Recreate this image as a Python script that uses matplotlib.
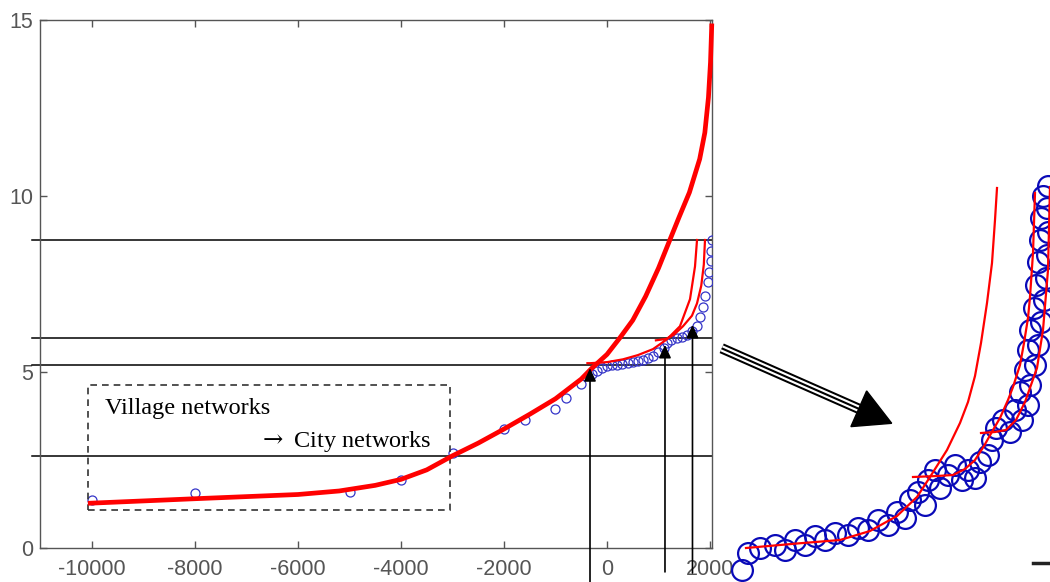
import numpy as np
import matplotlib
matplotlib.use("Agg")
import matplotlib.pyplot as plt
from matplotlib.patches import Rectangle, Polygon

plt.rcParams['axes.unicode_minus'] = False
plt.rcParams['mathtext.fontset'] = 'dejavuserif'

# ---------------- main chart data ----------------
x_ticks = [-10000, -8000, -6000, -4000, -2000, 0, 2000]
y_ticks = [0, 5, 10, 15]

fit_x = [-10080, -8000, -7000, -6000, -5200, -4500, -4000, -3500, -3000, -2500, -2000,
         -1500, -1000, -500, -300, 0, 250, 500, 750, 1000, 1220, 1400, 1600,
         1800, 1900, 1970, 2010, 2035]
fit_y = [1.27, 1.4, 1.46, 1.52, 1.62, 1.78, 1.95, 2.22, 2.62, 2.98, 3.38,
         3.8, 4.24, 4.8, 5.1, 5.5, 5.97, 6.47, 7.15, 7.95, 8.75, 9.4, 10.1,
         11.05, 11.8, 12.8, 13.8, 14.9]

fit2_x = [-380, -330, 0, 310, 600, 893, 1165, 1417, 1612, 1709, 1748]
fit2_y = [5.25, 5.25, 5.28, 5.36, 5.48, 5.65, 5.93, 6.3, 7.07, 8.0, 8.75]

fit3_x = [950, 1150, 1300, 1476, 1650, 1748, 1830, 1880, 1903]
fit3_y = [5.9, 5.94, 6.06, 6.3, 6.6, 6.95, 7.45, 8.05, 8.75]

obs_x = [-10000, -8000, -5000, -4000, -3000, -2000, -1600, -1000, -800, -500,
         -300, -200, -100, 0, 100, 200, 300, 400, 500, 600, 700, 800, 900,
         1000, 1100, 1165, 1250, 1350, 1450, 1553, 1650, 1748, 1810, 1864,
         1910, 1961, 1990, 2010, 2025, 2035]
obs_y = [1.36, 1.55, 1.6, 1.93, 2.69, 3.37, 3.65, 3.96, 4.25, 4.65,
         4.95, 5.03, 5.1, 5.16, 5.19, 5.21, 5.23, 5.25, 5.27, 5.3, 5.34, 5.39, 5.46,
         5.56, 5.68, 5.81, 5.9, 5.96, 6.0, 6.06, 6.16, 6.3, 6.55, 6.85,
         7.15, 7.55, 7.85, 8.15, 8.45, 8.75]

hlines_y = [8.75, 5.97, 5.2, 2.61]
transition_x = [-330, 1126, 1660]
transition_tip = [5.11, 5.77, 6.34]
transition_tail = [-0.97, -0.68, -0.71]

box_x = (-10078, -3049)
box_y = (1.08, 4.63)
label_1 = "Village networks"
label_2 = r"$\rightarrow$ City networks"

# ---------------- magnified inset data (inset units) ----------------
inset_a_x = [31, 82, 125, 155, 182, 202, 215, 232, 245, 253, 260, 266, 272, 277, 280, 282]
inset_a_y = [34, 38.5, 42, 51, 66, 85, 105, 132, 159, 180, 206, 239, 279, 319, 362, 394]
inset_b_x = [198, 222, 238, 250, 260, 269, 278, 285, 293, 298, 305, 309, 313, 315, 318, 320]
inset_b_y = [105, 106, 107, 113, 122, 136, 152, 164, 182, 195, 217, 239, 264, 285, 329, 389]
inset_c_x = [266, 280, 291, 301, 310, 316, 322, 328, 333, 335]
inset_c_y = [149, 150, 152, 162, 180, 197, 214, 252, 312, 395]
inset_obs_x = [27, 33, 45, 60, 70, 80, 90, 100, 110, 120, 133, 143, 153, 163, 173,
               182, 190, 195, 203, 210, 213, 220, 225, 233, 240, 247, 253, 260, 265,
               273, 277, 281, 288, 295, 300, 307, 313, 305, 315, 310, 320, 313, 323,
               315, 326, 319, 329, 321, 331, 323, 332, 325, 333, 326, 332, 328, 333]
inset_obs_y = [12, 29, 34, 37, 32, 42, 37, 46, 42, 49, 47, 54, 52, 62, 57,
               70, 64, 82, 90, 77, 102, 112, 94, 107, 117, 102, 112, 104, 120,
               127, 142, 154, 162, 150, 172, 162, 177, 190, 197, 212, 217, 232, 237,
               252, 260, 274, 282, 297, 304, 320, 327, 342, 350, 364, 374, 386, 396]
inset_dash_x = [318, 335]
inset_dash_y = [19, 19]
arrow_tail = (6.7, 233.7)
arrow_tip = (176.7, 158.7)

# ---------------- figure ----------------
fig = plt.figure(figsize=(10.5, 5.82), dpi=100)
ax = fig.add_axes([40 / 1050, 1 - 548 / 582, 672 / 1050, 528 / 582])
ax.set_xlim(-11010, 2039)
ax.set_ylim(0, 15)

spine_col = '#555555'
for s in ax.spines.values():
    s.set_color(spine_col)
    s.set_linewidth(1.0)
ax.set_xticks(x_ticks)
ax.set_yticks(y_ticks)
ax.set_xticklabels([str(v) for v in x_ticks])
ax.set_yticklabels([str(v) for v in y_ticks])
ax.tick_params(direction='in', length=5, width=1.0, color=spine_col,
               top=True, right=True, labelsize=15.5, labelcolor='#555555',
               labelfontfamily='Liberation Sans')
ax.tick_params(axis='x', pad=8)
ax.tick_params(axis='y', pad=5)

# horizontal reference lines
for yv in hlines_y:
    ax.plot([-11165, 2039], [yv, yv], color='black', lw=1.1, clip_on=False, zorder=2)

# vertical transition arrows
for xv, tip, tail in zip(transition_x, transition_tip, transition_tail):
    ax.annotate('', xy=(xv, tip), xytext=(xv, tail),
                arrowprops=dict(arrowstyle='-|>,head_length=0.6,head_width=0.28',
                                color='black', lw=1.2, mutation_scale=13,
                                shrinkA=0, shrinkB=0),
                annotation_clip=False, zorder=5)

# observations
ax.plot(obs_x, obs_y, linestyle='none', marker='o', markersize=6.5,
        markerfacecolor='none', markeredgecolor='#3535c8', markeredgewidth=0.9, zorder=3)

# fitted curves
ax.plot(fit_x, fit_y, color='#ff0000', lw=3.4, solid_capstyle='butt',
        solid_joinstyle='round', zorder=4, clip_on=False)
ax.plot(fit2_x, fit2_y, color='#ff0000', lw=1.6, zorder=4)
ax.plot(fit3_x, fit3_y, color='#ff0000', lw=1.6, zorder=4)

# dashed box and annotation text
ax.add_patch(Rectangle((box_x[0], box_y[0]), box_x[1] - box_x[0], box_y[1] - box_y[0],
                       fill=False, edgecolor='#333333', lw=1.2, linestyle=(0, (4, 3)), zorder=3))
ax.text(-9748, 3.81, label_1, ha='left', va='baseline', fontsize=17.5,
        family=['Liberation Serif', 'DejaVu Serif'], color='black')
ax.text(-3398, 2.87, label_2, ha='right', va='baseline', fontsize=17.5,
        family=['Liberation Serif', 'DejaVu Serif'], color='black')

# ---------------- inset (magnified view) ----------------
ins = fig.add_axes([715 / 1050, 0, 335 / 1050, 412 / 582])
ins.set_xlim(0, 335)
ins.set_ylim(0, 412)
ins.axis('off')
ins.patch.set_alpha(0)

ins.plot(inset_obs_x, inset_obs_y, linestyle='none', marker='o', markersize=15,
         markerfacecolor='none', markeredgecolor='#0a0ab8', markeredgewidth=1.6,
         clip_on=False, zorder=2)
for cx, cy in [(inset_a_x, inset_a_y), (inset_b_x, inset_b_y), (inset_c_x, inset_c_y)]:
    ins.plot(cx, cy, color='#ff0000', lw=1.6, clip_on=False, zorder=3)
ins.plot(inset_dash_x, inset_dash_y, color='#222222', lw=2.5, clip_on=False)

# big triple-line arrow
tail = np.array(arrow_tail)
tip = np.array(arrow_tip)
d = tip - tail
d = d / np.hypot(*d)
perp = np.array([-d[1], d[0]])
head_len, head_half = 36.0, 19.5
base = tip - d * head_len
for lw, col in [(7.5, 'black'), (4.6, 'white'), (1.5, 'black')]:
    ins.plot([tail[0], base[0] + d[0] * 4], [tail[1], base[1] + d[1] * 4],
             color=col, lw=lw, solid_capstyle='butt', clip_on=False, zorder=4)
ins.add_patch(Polygon([tip, base + perp * head_half, base - perp * head_half],
                      closed=True, facecolor='black', edgecolor='black', zorder=5,
                      clip_on=False))

fig.savefig('out.png', dpi=100)
